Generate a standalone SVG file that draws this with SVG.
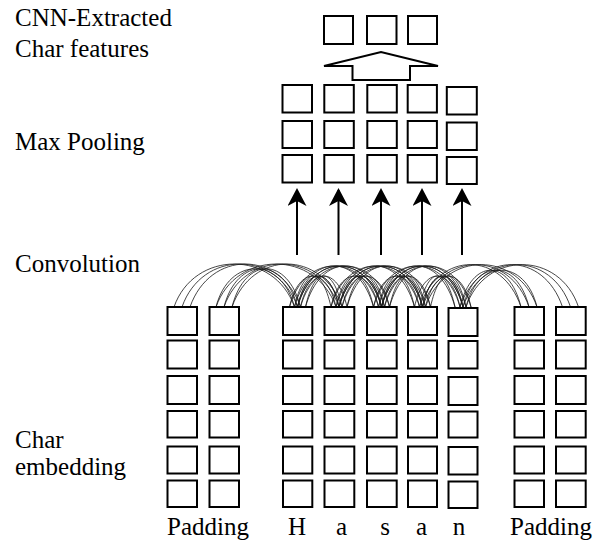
<svg xmlns="http://www.w3.org/2000/svg" width="602" height="545" viewBox="0 0 602 545">
  <style>
    .cell { fill: #fff; stroke: #000; stroke-width: 2; }
    .lbl { font-size: 25px; fill: #000; }
    .mid { text-anchor: middle; }
    .conv path { fill: none; stroke: #1a1a1a; stroke-width: 0.95; stroke-opacity: 0.85; }
    .up { stroke: #000; stroke-width: 2; marker-end: url(#head); }
    .big { fill: #fff; stroke: #000; stroke-width: 2; stroke-linejoin: miter; }
  </style>
  <defs>
    <marker id="head" markerUnits="userSpaceOnUse" markerWidth="20" markerHeight="20" refX="16" refY="9.5" orient="auto">
      <path d="M0,0 L18,9.5 L0,19 L5,9.5 z" fill="#000"/>
    </marker>
  </defs>

  <rect width="602" height="545" fill="#fff"/>

  <!-- row labels -->
  <g id="labels" font-family="'Liberation Serif', 'DejaVu Serif', serif">
    <text class="lbl" x="15" y="26">CNN-Extracted</text>
    <text class="lbl" x="15" y="56.5">Char features</text>
    <text class="lbl" x="15" y="150">Max Pooling</text>
    <text class="lbl" x="15" y="272">Convolution</text>
    <text class="lbl" x="15" y="448">Char</text>
    <text class="lbl" x="15" y="475">embedding</text>
    <text class="lbl" x="167" y="535">Padding</text>
    <text class="lbl mid" x="297" y="535">H</text>
    <text class="lbl mid" x="341.5" y="535">a</text>
    <text class="lbl mid" x="385" y="535">s</text>
    <text class="lbl mid" x="421.5" y="535">a</text>
    <text class="lbl mid" x="459" y="535">n</text>
    <text class="lbl" x="510" y="535">Padding</text>
  </g>

  <!-- convolution connections: each output column linked to its 5-wide window -->
  <g id="connectors">
    <g class="conv">
      <path d="M174,307C194,249.7 274.5,249.7 294.5,307"/>
      <path d="M182,307C202,249.7 277.5,249.7 297.5,307"/>
      <path d="M190,307C210,249.7 280.5,249.7 300.5,307"/>
      <path d="M216,307C229,256 281.5,256 294.5,307"/>
      <path d="M224,307C237,256 284.5,256 297.5,307"/>
      <path d="M232,307C245,256 287.5,256 300.5,307"/>
      <path d="M331,307C322,265.7 303.5,265.7 294.5,307"/>
      <path d="M339,307C330,265.7 306.5,265.7 297.5,307"/>
      <path d="M347,307C338,265.7 309.5,265.7 300.5,307"/>
      <path d="M373.5,307C358.5,252.3 309.5,252.3 294.5,307"/>
      <path d="M381.5,307C366.5,252.3 312.5,252.3 297.5,307"/>
      <path d="M389.5,307C374.5,252.3 315.5,252.3 300.5,307"/>

      <path d="M216,307C236,249.7 316,249.7 336,307"/>
      <path d="M224,307C244,249.7 319,249.7 339,307"/>
      <path d="M232,307C252,249.7 322,249.7 342,307"/>
      <path d="M289.5,307C298.5,265.7 327,265.7 336,307"/>
      <path d="M297.5,307C306.5,265.7 330,265.7 339,307"/>
      <path d="M305.5,307C314.5,265.7 333,265.7 342,307"/>
      <path d="M373.5,307C364.5,265.7 345,265.7 336,307"/>
      <path d="M381.5,307C372.5,265.7 348,265.7 339,307"/>
      <path d="M389.5,307C380.5,265.7 351,265.7 342,307"/>
      <path d="M414.5,307C399.5,252.3 351,252.3 336,307"/>
      <path d="M422.5,307C407.5,252.3 354,252.3 339,307"/>
      <path d="M430.5,307C415.5,252.3 357,252.3 342,307"/>

      <path d="M289.5,307C304.5,252.3 363.5,252.3 378.5,307"/>
      <path d="M297.5,307C312.5,252.3 366.5,252.3 381.5,307"/>
      <path d="M305.5,307C320.5,252.3 369.5,252.3 384.5,307"/>
      <path d="M331,307C340,265.7 369.5,265.7 378.5,307"/>
      <path d="M339,307C348,265.7 372.5,265.7 381.5,307"/>
      <path d="M347,307C356,265.7 375.5,265.7 384.5,307"/>
      <path d="M414.5,307C405.5,265.7 387.5,265.7 378.5,307"/>
      <path d="M422.5,307C413.5,265.7 390.5,265.7 381.5,307"/>
      <path d="M430.5,307C421.5,265.7 393.5,265.7 384.5,307"/>
      <path d="M455,307C440,252.3 393.5,252.3 378.5,307"/>
      <path d="M463,307C448,252.3 396.5,252.3 381.5,307"/>
      <path d="M471,307C456,252.3 399.5,252.3 384.5,307"/>

      <path d="M331,307C346,252.3 404.5,252.3 419.5,307"/>
      <path d="M339,307C354,252.3 407.5,252.3 422.5,307"/>
      <path d="M347,307C362,252.3 410.5,252.3 425.5,307"/>
      <path d="M373.5,307C382.5,265.7 410.5,265.7 419.5,307"/>
      <path d="M381.5,307C390.5,265.7 413.5,265.7 422.5,307"/>
      <path d="M389.5,307C398.5,265.7 416.5,265.7 425.5,307"/>
      <path d="M455,307C446,265.7 428.5,265.7 419.5,307"/>
      <path d="M463,307C454,265.7 431.5,265.7 422.5,307"/>
      <path d="M471,307C462,265.7 434.5,265.7 425.5,307"/>
      <path d="M521,307C502,250.5 438.5,250.5 419.5,307"/>
      <path d="M529,307C510,250.5 441.5,250.5 422.5,307"/>
      <path d="M537,307C518,250.5 444.5,250.5 425.5,307"/>

      <path d="M373.5,307C388.5,252.3 445,252.3 460,307"/>
      <path d="M381.5,307C396.5,252.3 448,252.3 463,307"/>
      <path d="M389.5,307C404.5,252.3 451,252.3 466,307"/>
      <path d="M414.5,307C423.5,265.7 451,265.7 460,307"/>
      <path d="M422.5,307C431.5,265.7 454,265.7 463,307"/>
      <path d="M430.5,307C439.5,265.7 457,265.7 466,307"/>
      <path d="M521,307C509,258 472,258 460,307"/>
      <path d="M529,307C517,258 475,258 463,307"/>
      <path d="M537,307C525,258 478,258 466,307"/>
      <path d="M562.5,307C543.5,250.5 479,250.5 460,307"/>
      <path d="M570.5,307C551.5,250.5 482,250.5 463,307"/>
      <path d="M578.5,307C559.5,250.5 485,250.5 466,307"/>
    </g>

    <!-- convolution to max pooling -->
    <line class="up" x1="297" y1="255" x2="297" y2="190"/>
    <line class="up" x1="338.5" y1="255" x2="338.5" y2="190"/>
    <line class="up" x1="381" y1="255" x2="381" y2="190"/>
    <line class="up" x1="422" y1="255" x2="422" y2="190"/>
    <line class="up" x1="462" y1="255" x2="462" y2="190"/>

    <!-- pooling to features -->
    <polygon class="big" points="324,66 381,52 438,66 410,66 410,80 352.5,80 352.5,66"/>
  </g>

  <!-- extracted character features -->
  <g id="features">
    <rect class="cell" x="324" y="16" width="29" height="28"/>
    <rect class="cell" x="367" y="16" width="29.5" height="28"/>
    <rect class="cell" x="408" y="16" width="29" height="28"/>
  </g>

  <!-- max pooling columns -->
  <g id="pool-1">
    <rect class="cell" x="282.5" y="85" width="29.5" height="27.5"/>
    <rect class="cell" x="282.5" y="121" width="29.5" height="27"/>
    <rect class="cell" x="282.5" y="155" width="29.5" height="27.5"/>
  </g>
  <g id="pool-2">
    <rect class="cell" x="324.3" y="85" width="29.5" height="27.5"/>
    <rect class="cell" x="324.3" y="121" width="29.5" height="27"/>
    <rect class="cell" x="324.3" y="155" width="29.5" height="27.5"/>
  </g>
  <g id="pool-3">
    <rect class="cell" x="367.3" y="85" width="29.5" height="27.5"/>
    <rect class="cell" x="367.3" y="121" width="29.5" height="27"/>
    <rect class="cell" x="367.3" y="155" width="29.5" height="27.5"/>
  </g>
  <g id="pool-4">
    <rect class="cell" x="407.7" y="85" width="29.2" height="27.5"/>
    <rect class="cell" x="407.7" y="121" width="29.2" height="27"/>
    <rect class="cell" x="407.7" y="155" width="29.2" height="27.5"/>
  </g>
  <g id="pool-5">
    <rect class="cell" x="446.8" y="87" width="30" height="27.5"/>
    <rect class="cell" x="446.8" y="122.5" width="30" height="27.5"/>
    <rect class="cell" x="446.8" y="157" width="30" height="27"/>
  </g>

  <!-- character embedding columns -->
  <g id="emb-pad-1">
    <rect class="cell" x="167.5" y="307" width="29.5" height="28"/>
    <rect class="cell" x="167.5" y="340.5" width="29.5" height="28"/>
    <rect class="cell" x="167.5" y="376" width="29.5" height="28"/>
    <rect class="cell" x="167.5" y="411" width="29.5" height="26.5"/>
    <rect class="cell" x="167.5" y="446.5" width="29.5" height="27"/>
    <rect class="cell" x="167.5" y="480.5" width="29.5" height="26.5"/>
  </g>
  <g id="emb-pad-2">
    <rect class="cell" x="209.5" y="307" width="29.5" height="28"/>
    <rect class="cell" x="209.5" y="340.5" width="29.5" height="28"/>
    <rect class="cell" x="209.5" y="376" width="29.5" height="28"/>
    <rect class="cell" x="209.5" y="411" width="29.5" height="26.5"/>
    <rect class="cell" x="209.5" y="446.5" width="29.5" height="27"/>
    <rect class="cell" x="209.5" y="480.5" width="29.5" height="26.5"/>
  </g>
  <g id="emb-H">
    <rect class="cell" x="283" y="307" width="29.3" height="28"/>
    <rect class="cell" x="283" y="340.5" width="29.3" height="28"/>
    <rect class="cell" x="283" y="376" width="29.3" height="28"/>
    <rect class="cell" x="283" y="411" width="29.3" height="26.5"/>
    <rect class="cell" x="283" y="446.5" width="29.3" height="27"/>
    <rect class="cell" x="283" y="480.5" width="29.3" height="26.5"/>
  </g>
  <g id="emb-a">
    <rect class="cell" x="324.5" y="307" width="29.8" height="28"/>
    <rect class="cell" x="324.5" y="340.5" width="29.8" height="28"/>
    <rect class="cell" x="324.5" y="376" width="29.8" height="28"/>
    <rect class="cell" x="324.5" y="411" width="29.8" height="26.5"/>
    <rect class="cell" x="324.5" y="446.5" width="29.8" height="27"/>
    <rect class="cell" x="324.5" y="480.5" width="29.8" height="26.5"/>
  </g>
  <g id="emb-s">
    <rect class="cell" x="367" y="307" width="29.7" height="28"/>
    <rect class="cell" x="367" y="340.5" width="29.7" height="28"/>
    <rect class="cell" x="367" y="376" width="29.7" height="28"/>
    <rect class="cell" x="367" y="411" width="29.7" height="26.5"/>
    <rect class="cell" x="367" y="446.5" width="29.7" height="27"/>
    <rect class="cell" x="367" y="480.5" width="29.7" height="26.5"/>
  </g>
  <g id="emb-a2">
    <rect class="cell" x="408" y="307" width="29" height="28"/>
    <rect class="cell" x="408" y="340.5" width="29" height="28"/>
    <rect class="cell" x="408" y="376" width="29" height="28"/>
    <rect class="cell" x="408" y="411" width="29" height="26.5"/>
    <rect class="cell" x="408" y="446.5" width="29" height="27"/>
    <rect class="cell" x="408" y="480.5" width="29" height="26.5"/>
  </g>
  <g id="emb-n">
    <rect class="cell" x="448.5" y="308" width="29" height="28"/>
    <rect class="cell" x="448.5" y="341" width="29" height="27.5"/>
    <rect class="cell" x="448.5" y="377" width="29" height="28"/>
    <rect class="cell" x="448.5" y="411.5" width="29" height="26"/>
    <rect class="cell" x="448.5" y="447" width="29" height="27.5"/>
    <rect class="cell" x="448.5" y="481.5" width="29" height="26.5"/>
  </g>
  <g id="emb-pad-3">
    <rect class="cell" x="514.5" y="307" width="29.5" height="28"/>
    <rect class="cell" x="514.5" y="340.5" width="29.5" height="28"/>
    <rect class="cell" x="514.5" y="376" width="29.5" height="28"/>
    <rect class="cell" x="514.5" y="411" width="29.5" height="26.5"/>
    <rect class="cell" x="514.5" y="446.5" width="29.5" height="27"/>
    <rect class="cell" x="514.5" y="480.5" width="29.5" height="26.5"/>
  </g>
  <g id="emb-pad-4">
    <rect class="cell" x="556" y="307" width="29.7" height="28"/>
    <rect class="cell" x="556" y="340.5" width="29.7" height="28"/>
    <rect class="cell" x="556" y="376" width="29.7" height="28"/>
    <rect class="cell" x="556" y="411" width="29.7" height="26.5"/>
    <rect class="cell" x="556" y="446.5" width="29.7" height="27"/>
    <rect class="cell" x="556" y="480.5" width="29.7" height="26.5"/>
  </g>
</svg>
